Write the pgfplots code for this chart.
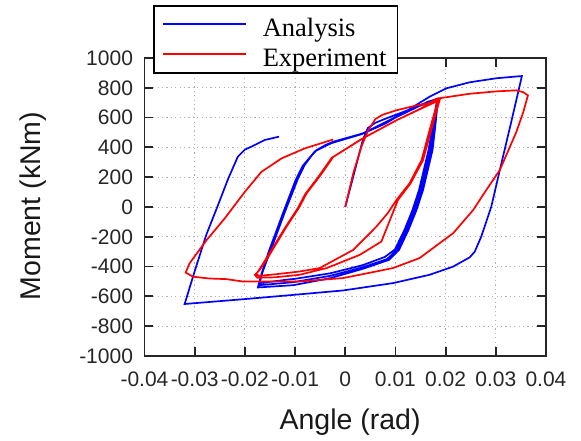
\documentclass[border=0pt]{standalone}
\usepackage{fontspec}
\setmainfont{Liberation Sans}
\newfontfamily\legendfont{Liberation Serif}
\usepackage{pgfplots}
\pgfplotsset{compat=1.18}

\begin{document}
\begin{tikzpicture}
\begin{axis}[
  scale only axis, width=401.5pt, height=298pt,
  xmin=-0.04, xmax=0.04, ymin=-1000, ymax=1000,
  scaled x ticks=false, scaled y ticks=false,
  xtick={-0.04,-0.03,-0.02,-0.01,0,0.01,0.02,0.03,0.04},
  xticklabels={-0.04,-0.03,-0.02,-0.01,0,0.01,0.02,0.03,0.04},
  ytick={-1000,-800,-600,-400,-200,0,200,400,600,800,1000},
  yticklabels={-1000,-800,-600,-400,-200,0,200,400,600,800,1000},
  tick align=inside, major tick length=9pt,
  tick style={line width=1.8pt, black!85},
  axis line style={line width=1.8pt, black!85},
  grid=major,
  grid style={gray!60, line width=0.8pt, dash pattern=on 1.2pt off 3.2pt},
  ticklabel style={font=\fontsize{21}{25}\selectfont, text=black!85},
  xticklabel style={yshift=-12pt},
  yticklabel style={xshift=-8pt},
  xlabel={Angle (rad)}, ylabel={Moment (kNm)},
  label style={font=\fontsize{28.5}{34}\selectfont, text=black!90},
  xlabel style={at={(axis description cs:0.512,-0.221)}, anchor=center},
  ylabel style={at={(axis description cs:-0.278,0.503)}, anchor=center, rotate=0},
  legend style={at={(axis description cs:0.0219,1.178)}, anchor=north west,
    draw=black, line width=1.6pt, fill=white,
    font=\legendfont\fontsize{26.5}{31}\selectfont,
    inner xsep=8pt, inner ysep=4pt, row sep=1pt,
    nodes={inner xsep=3pt, inner ysep=1pt, text height=26pt, text depth=1pt}},
  legend cell align=left,
  legend image code/.code={\draw[#1] (2pt,0pt) -- (85pt,0pt) (98pt,0pt);},
]
\addplot[blue, line width=1.7pt] coordinates {
  (0,0) (0.0018,230) (0.0035,450) (0.0045,530) (0.0060,565) (0.0082,595)
  (0.0125,650) (0.0183,722)
  (0.0175,560) (0.0166,383) (0.0147,114) (0.0134,-20) (0.0118,-154)
  (0.0099,-285) (0.0079,-335) (0.0035,-390) (-0.0030,-445) (-0.0100,-482)
  (-0.0117,-488) (-0.0172,-512)
  (-0.0163,-420) (-0.0147,-277) (-0.0120,-31) (-0.0094,192) (-0.0081,281)
  (-0.0067,345) (-0.0057,382) (-0.0040,415) (-0.0024,438) (0.0035,494)
  (0.0102,606) (0.0165,707) (0.0183,725)
  (0.0177,560) (0.0170,383) (0.0151,114) (0.0138,-20) (0.0122,-154)
  (0.0103,-289) (0.0083,-350) (0.0035,-405) (-0.0030,-462) (-0.0104,-505)
  (-0.0172,-525)
  (-0.0165,-440) (-0.0150,-290) (-0.0123,-40) (-0.0097,185) (-0.0083,280)
  (-0.0059,378) (-0.0026,432) (0.0033,490) (0.0100,600) (0.0163,703)
  (0.0185,727)
  (0.0180,560) (0.0174,383) (0.0155,114) (0.0142,-20) (0.0126,-154)
  (0.0107,-289) (0.0087,-355) (0.0035,-415) (-0.0030,-478) (-0.0104,-525)
  (-0.0174,-540)
  (-0.0167,-450) (-0.0152,-295) (-0.0125,-50) (-0.0099,180) (-0.0085,275)
  (-0.0060,375) (-0.0028,428) (0.0032,488) (0.0080,560) (0.0120,640)
  (0.0168,740) (0.0202,797) (0.0248,837) (0.0301,864) (0.0352,879)
  (0.0330,560) (0.0308,248) (0.0291,2) (0.0271,-199) (0.0258,-300)
  (0.0248,-338) (0.0215,-400) (0.0168,-455) (0.0095,-511) (-0.0004,-560)
  (-0.0104,-590) (-0.0200,-618) (-0.0320,-651)
  (-0.0299,-420) (-0.0277,-188) (-0.0255,0) (-0.0233,192) (-0.0214,338)
  (-0.0200,385) (-0.0187,405) (-0.0160,450) (-0.0132,472)
};
\addlegendentry{Analysis}
\addplot[red, line width=1.7pt] coordinates {
  (0,0) (0.0016,226) (0.0032,403) (0.0045,510) (0.0060,590) (0.0075,620)
  (0.0102,649) (0.0140,680) (0.0162,694) (0.0185,716)
  (0.0175,600) (0.0168,515) (0.0152,314) (0.0128,158) (0.0102,47)
  (0.0085,-40) (0.0062,-132) (0.0016,-288) (-0.0051,-410) (-0.0091,-433)
  (-0.0140,-452) (-0.0172,-462) (-0.0178,-450)
  (-0.0170,-420) (-0.0157,-355) (-0.0117,-132) (-0.0091,2) (-0.0077,92)
  (-0.0050,210) (-0.0024,336) (0.0035,460) (0.0102,582) (0.0165,682)
  (0.0188,716)
  (0.0178,600) (0.0170,500) (0.0155,314) (0.0130,158) (0.0105,47)
  (0.0072,-232) (0.0029,-321) (-0.0037,-410) (-0.0091,-455) (-0.0140,-472)
  (-0.0175,-475) (-0.0180,-455)
  (-0.0175,-440) (-0.0160,-360) (-0.0120,-140) (-0.0094,-5) (-0.0080,85)
  (-0.0053,205) (-0.0027,330) (0.0032,455) (0.0099,577) (0.0150,660)
  (0.0182,727) (0.0248,760) (0.0301,776) (0.0341,783) (0.0355,770)
  (0.0364,749)
  (0.0355,640) (0.0341,504) (0.0308,248) (0.0281,114) (0.0255,-20)
  (0.0215,-176) (0.0148,-343) (0.0095,-410) (-0.0004,-477) (-0.0091,-500)
  (-0.0150,-500) (-0.0204,-500) (-0.0237,-484) (-0.0270,-480)
  (-0.0303,-468) (-0.0318,-440)
  (-0.0310,-377) (-0.0276,-221) (-0.0240,-76) (-0.0200,102) (-0.0167,236)
  (-0.0127,326) (-0.0081,393) (-0.0024,453)
};
\addlegendentry{Experiment}
\end{axis}
\pgfresetboundingbox
\path (-144.5pt,-85pt) rectangle (436.5pt,356pt);
\end{tikzpicture}
\end{document}
